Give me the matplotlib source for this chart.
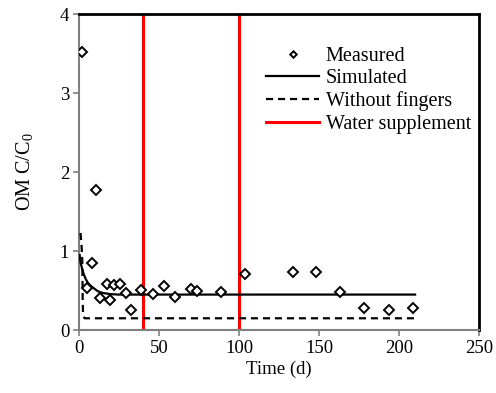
import matplotlib
matplotlib.use("Agg")
import matplotlib.pyplot as plt

plt.rcParams['font.family'] = ['Liberation Serif', 'DejaVu Serif']
plt.rcParams['mathtext.fontset'] = 'custom'
plt.rcParams['mathtext.rm'] = 'Liberation Serif'
plt.rcParams['mathtext.it'] = 'Liberation Serif:italic'

# Measured data
meas_t = [1.7, 4.8, 8.3, 11, 13.5, 17.3, 19.4, 21.9, 25.6, 29.2, 32.3, 39, 46, 53, 60, 70, 74, 89, 104, 134, 148, 163, 178, 194, 209]
meas_y = [3.52, 0.53, 0.85, 1.78, 0.41, 0.59, 0.38, 0.57, 0.59, 0.47, 0.25, 0.51, 0.46, 0.56, 0.42, 0.52, 0.50, 0.48, 0.71, 0.73, 0.73, 0.48, 0.28, 0.26, 0.28]

# Simulated
sim_t = [0.5, 1, 2, 3, 4, 5, 6, 8, 10, 12, 15, 20, 25, 210]
sim_y = [0.95, 0.86, 0.78, 0.71, 0.66, 0.62, 0.59, 0.55, 0.52, 0.49, 0.47, 0.455, 0.45, 0.45]

# Without fingers
nof_t = [1, 1.6, 2.1, 2.3, 2.4, 2.6, 3.0, 3.6, 210]
nof_y = [1.23, 1.1, 0.9, 0.6, 0.35, 0.22, 0.17, 0.15, 0.15]

# Water supplement times
water_t = [40, 100]

fig = plt.figure(figsize=(4.96, 3.93), dpi=100)
ax = fig.add_axes([0.159, 0.160, 0.807, 0.804])

fs = 13.5
ax.plot(meas_t, meas_y, linestyle='none', marker='D', markersize=5.5, markerfacecolor='white',
        markeredgecolor='black', markeredgewidth=1.4, label='Measured', zorder=4)
ax.plot(sim_t, sim_y, color='black', lw=1.6, label='Simulated', zorder=3)
ax.plot(nof_t, nof_y, color='black', lw=1.6, linestyle=(0, (3.2, 2.2)), label='Without fingers', zorder=3)
for i, t in enumerate(water_t):
    ax.axvline(t, color='#ff0000', lw=2.2, label='Water supplement' if i == 0 else None, zorder=2)

ax.set_xlim(0, 250)
ax.set_ylim(0, 4)
ax.set_xticks([0, 50, 100, 150, 200, 250])
ax.set_yticks([0, 1, 2, 3, 4])
ax.tick_params(axis='both', direction='out', length=4.5, width=1.2, color='#808080', labelsize=fs, pad=2.5)
for s in ['left', 'bottom']:
    ax.spines[s].set_color('#808080')
    ax.spines[s].set_linewidth(1.5)
for s in ['top', 'right']:
    ax.spines[s].set_color('black')
    ax.spines[s].set_linewidth(2)

ax.set_xlabel('Time (d)', fontsize=fs, labelpad=3)
ax.set_ylabel(r'OM C/C$_0$', fontsize=14.5, labelpad=18)

leg = ax.legend(loc='upper right', bbox_to_anchor=(1.01, 0.935), frameon=False, fontsize=14.5,
                handlelength=2.6, handletextpad=0.35, labelspacing=0.16, markerscale=0.6,
                borderaxespad=0.2)

fig.savefig('out.png', dpi=100)
